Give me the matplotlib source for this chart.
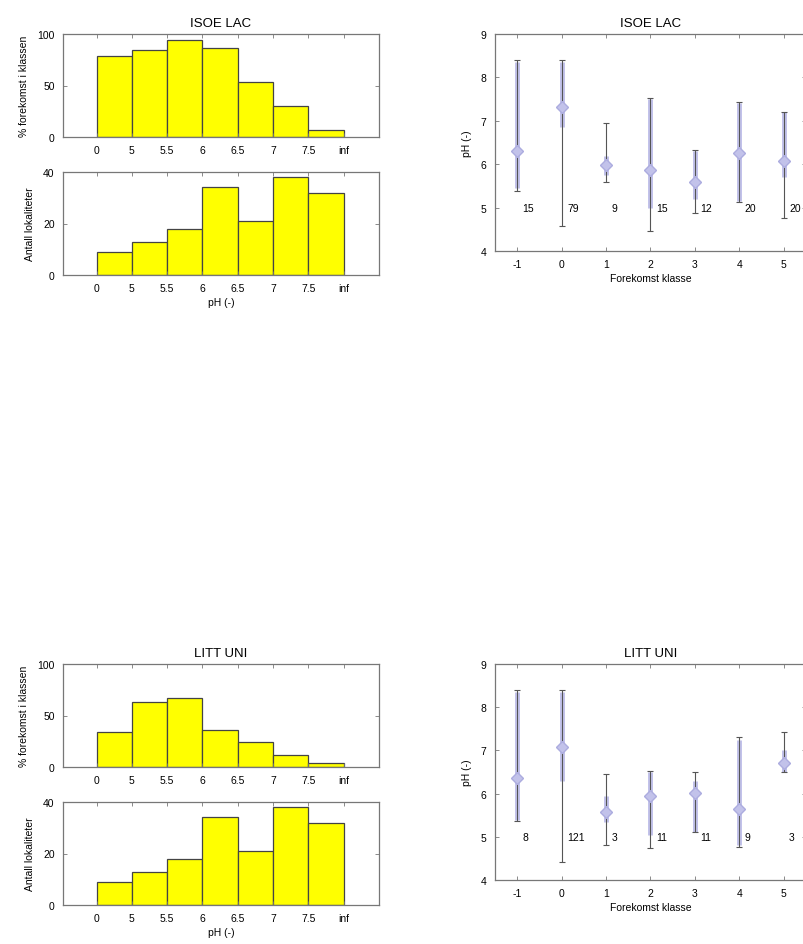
"""pH preference plots for two vegetation types: histograms and error bars per class."""

import matplotlib

matplotlib.use("Agg")
import matplotlib.pyplot as plt

plt.rcParams["font.family"] = ["Liberation Sans", "DejaVu Sans"]
plt.rcParams["axes.unicode_minus"] = False

FIG_W, FIG_H = 804, 945

# pH class edges shown under the histogram bars
ph_edges = ["0", "5", "5.5", "6", "6.5", "7", "7.5", "inf"]

# number of sites in each pH class (same for both types)
n_sites = [9, 13, 18, 34, 21, 38, 32]

# % occurrence in each pH class
isoe_pct = [79, 84, 94, 86, 53, 30, 7]
litt_pct = [34, 63, 67, 36, 24, 12, 4]

# occurrence classes on the error bar plots
classes = [-1, 0, 1, 2, 3, 4, 5]

isoe_mean = [6.31, 7.31, 5.98, 5.87, 5.58, 6.25, 6.08]
isoe_min = [5.38, 4.58, 5.58, 4.46, 4.88, 5.13, 4.77]
isoe_max = [8.40, 8.40, 6.95, 7.52, 6.33, 7.44, 7.21]
isoe_band_lo = [5.45, 6.85, 5.75, 5.00, 5.20, 5.15, 5.70]
isoe_band_hi = [8.35, 8.35, 6.20, 7.50, 6.30, 7.40, 7.20]
isoe_n = [15, 79, 9, 15, 12, 20, 20]

litt_mean = [6.35, 7.09, 5.58, 5.95, 6.01, 5.64, 6.70]
litt_min = [5.37, 4.42, 4.80, 4.73, 5.10, 4.77, 6.49]
litt_max = [8.40, 8.40, 6.45, 6.53, 6.50, 7.30, 7.42]
litt_band_lo = [5.40, 6.30, 5.35, 5.05, 5.10, 4.80, 6.50]
litt_band_hi = [8.35, 8.35, 5.95, 6.50, 6.30, 7.25, 7.00]
litt_n = [8, 121, 3, 11, 11, 9, 3]

EDGE = "#555555"
BAND = "#c2c2ea"


def px_axes(fig, x0, y0, x1, y1):
    return fig.add_axes([x0 / FIG_W, 1 - y1 / FIG_H, (x1 - x0) / FIG_W, (y1 - y0) / FIG_H])


def style(ax):
    for spine in ax.spines.values():
        spine.set_color("#777777")
        spine.set_linewidth(0.9)
    ax.tick_params(direction="in", top=True, right=True, length=3, width=0.6,
                   color="#777777", labelsize=7.5, pad=6)


def hist(ax, values, ymax, yticks, ylabel, xlabel=None, title=None):
    ax.bar(range(len(values)), values, width=1.0, align="edge",
           color="#ffff00", edgecolor="#444444", linewidth=0.9)
    ax.set_xlim(-0.95, 8.0)
    ax.set_ylim(0, ymax)
    ax.set_xticks(range(len(ph_edges)))
    ax.set_xticklabels(ph_edges)
    ax.set_yticks(yticks)
    ax.set_ylabel(ylabel, fontsize=7.5, labelpad=6)
    if xlabel:
        ax.set_xlabel(xlabel, fontsize=7.5, labelpad=3)
    if title:
        ax.set_title(title, fontsize=9.5, pad=6)
    style(ax)


def errplot(ax, mean, vmin, vmax, lo, hi, counts, title):
    ax.vlines(classes, lo, hi, color=BAND, linewidth=3.6, zorder=2)
    ax.errorbar(classes, mean,
                yerr=[[m - a for m, a in zip(mean, vmin)], [b - m for m, b in zip(mean, vmax)]],
                fmt="none", ecolor=EDGE, elinewidth=0.8, capsize=2, capthick=0.8, zorder=3)
    ax.plot(classes, mean, linestyle="none", marker="D", markersize=6.5,
            color=BAND, markeredgecolor="#acacdf", zorder=4)
    for c, n in zip(classes, counts):
        ax.text(c + 0.12, 5.0, str(n), fontsize=7.5, va="center", ha="left", zorder=5)
    ax.set_xlim(-1.5, 5.5)
    ax.set_ylim(4, 9)
    ax.set_xticks(classes)
    ax.set_yticks([4, 5, 6, 7, 8, 9])
    ax.set_xlabel("Forekomst klasse", fontsize=7.5, labelpad=3)
    ax.set_ylabel("pH (-)", fontsize=7.5, labelpad=6)
    ax.set_title(title, fontsize=9.5, pad=6)
    style(ax)


def main() -> None:
    fig = plt.figure(figsize=(FIG_W / 100, FIG_H / 100), dpi=100)

    # upper block
    hist(px_axes(fig, 63, 35, 379, 138), isoe_pct, 100, [0, 50, 100],
         "% forekomst i klassen", title="ISOE LAC")
    hist(px_axes(fig, 63, 173, 379, 276), n_sites, 40, [0, 20, 40],
         "Antall lokaliteter", xlabel="pH (-)")
    errplot(px_axes(fig, 495, 35, 806, 252), isoe_mean, isoe_min, isoe_max,
            isoe_band_lo, isoe_band_hi, isoe_n, "ISOE LAC")

    # lower block
    hist(px_axes(fig, 63, 665, 379, 768), litt_pct, 100, [0, 50, 100],
         "% forekomst i klassen", title="LITT UNI")
    hist(px_axes(fig, 63, 803, 379, 906), n_sites, 40, [0, 20, 40],
         "Antall lokaliteter", xlabel="pH (-)")
    errplot(px_axes(fig, 495, 665, 806, 881), litt_mean, litt_min, litt_max,
            litt_band_lo, litt_band_hi, litt_n, "LITT UNI")

    fig.savefig("out.png", dpi=100)
    plt.close(fig)


if __name__ == "__main__":
    main()
